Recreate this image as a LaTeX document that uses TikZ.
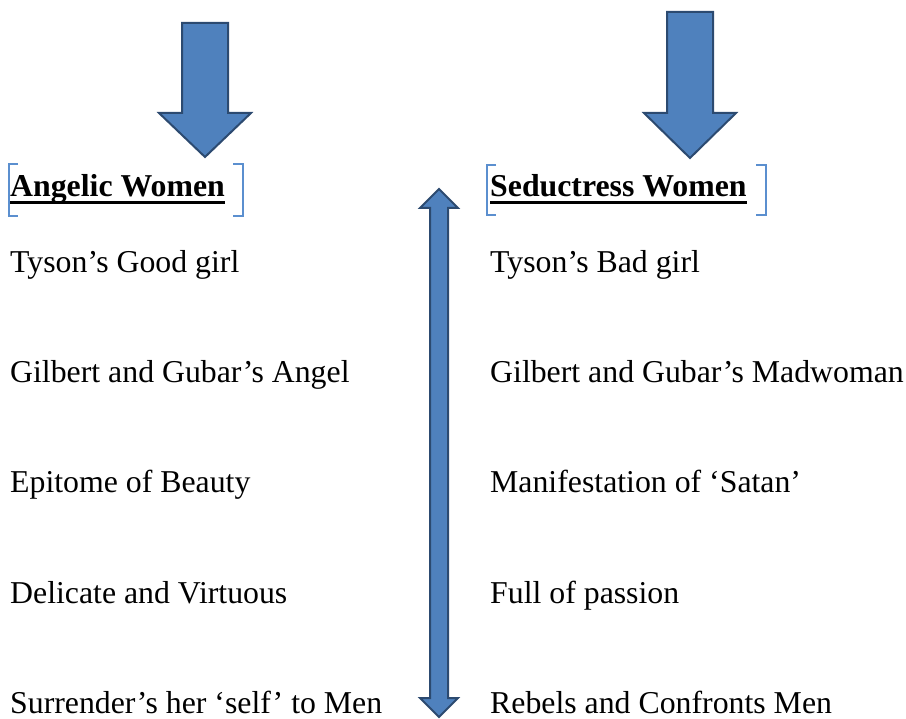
\documentclass[tikz,border=0pt]{standalone}
\usepackage{fontspec}
\setmainfont{Liberation Serif}
\definecolor{arrowblue}{RGB}{79,129,189}
\definecolor{arrowedge}{RGB}{44,74,112}
\definecolor{bracketblue}{RGB}{91,143,207}
\tikzset{
    blockarrow/.style={fill=arrowblue, draw=arrowedge, line width=2pt, line join=miter},
    bracketline/.style={draw=bracketblue, line width=1.5pt},
    item/.style={anchor=base west, inner sep=0pt, font=\fontsize{31.8}{38}\selectfont},
    heading/.style={item, font=\fontsize{31.8}{38}\selectfont\bfseries},
}
\begin{document}
\begin{tikzpicture}[x=1pt, y=-1pt]
    \useasboundingbox (0, 0) rectangle (906, 719);
    % block arrows
    \draw[blockarrow] (182, 23) -- (228, 23) -- (228, 113) -- (251, 113) -- (205, 157) -- (159, 113) -- (182, 113) -- cycle;
    \draw[blockarrow] (667, 12) -- (713, 12) -- (713, 113) -- (736, 113) -- (690, 158) -- (644, 113) -- (667, 113) -- cycle;
    \draw[blockarrow] (439, 189) -- (458, 208) -- (448, 208) -- (448, 698) -- (458, 698) -- (439, 717)
        -- (420, 698) -- (430, 698) -- (430, 208) -- (420, 208) -- cycle;
    % headings
    \node[heading] (angelic) at (10, 197) {Angelic Women};
    \node[heading] (seductress) at (490, 197) {Seductress Women};
    \draw[line width=3pt] ([yshift=-6pt]angelic.base west) -- ([yshift=-6pt]angelic.base east);
    \draw[line width=3pt] ([yshift=-6pt]seductress.base west) -- ([yshift=-6pt]seductress.base east);
    \draw[bracketline] (18, 164) -- (9, 164) -- (9, 216) -- (18, 216);
    \draw[bracketline] (233, 164) -- (243, 164) -- (243, 216) -- (233, 216);
    \draw[bracketline] (496, 165) -- (487, 165) -- (487, 215) -- (496, 215);
    \draw[bracketline] (756, 165) -- (766, 165) -- (766, 215) -- (756, 215);
    % angelic column
    \node[item] (goodgirl) at (10, 273) {Tyson’s Good girl};
    \node[item] (angel) at (10, 383) {Gilbert and Gubar’s Angel};
    \node[item] (beauty) at (10, 493) {Epitome of Beauty};
    \node[item] (virtuous) at (10, 603) {Delicate and Virtuous};
    \node[item] (surrender) at (10, 713) {Surrender’s her ‘self’ to Men};
    % seductress column
    \node[item] (badgirl) at (490, 273) {Tyson’s Bad girl};
    \node[item] (madwoman) at (490, 383) {Gilbert and Gubar’s Madwoman};
    \node[item] (satan) at (490, 493) {Manifestation of ‘Satan’};
    \node[item] (passion) at (490, 603) {Full of passion};
    \node[item] (rebels) at (490, 713) {Rebels and Confronts Men};
\end{tikzpicture}
\end{document}
